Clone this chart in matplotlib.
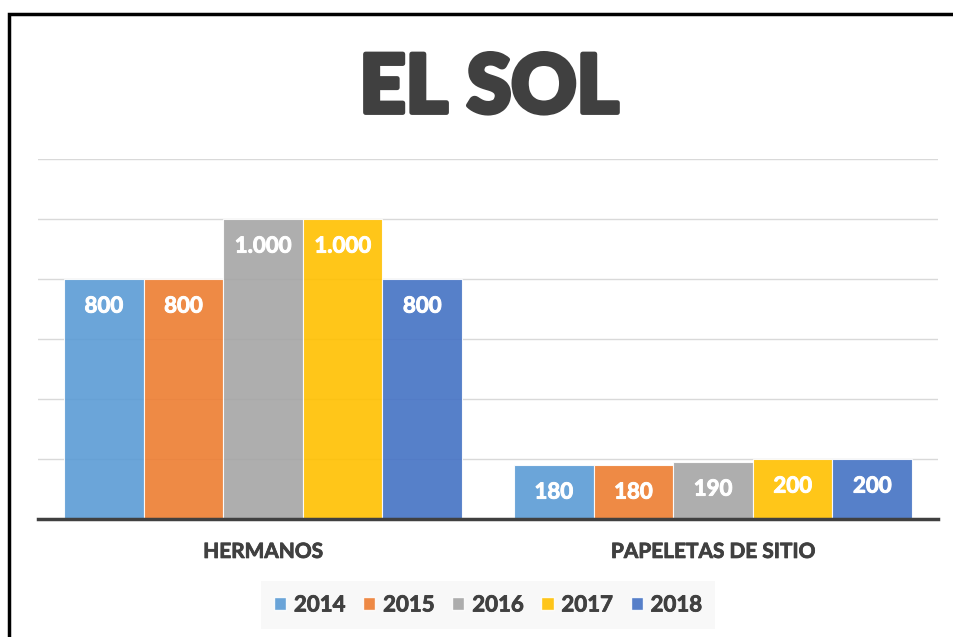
import matplotlib.pyplot as plt
import matplotlib.patheffects as pe
import numpy as np
from matplotlib.patches import Patch, Rectangle

# data
categories = ['HERMANOS', 'PAPELETAS DE SITIO']
years = ['2014', '2015', '2016', '2017', '2018']
values = {
    '2014': [800, 180],
    '2015': [800, 180],
    '2016': [1000, 190],
    '2017': [1000, 200],
    '2018': [800, 200],
}
colors = ['#5B9BD5', '#ED7D31', '#A5A5A5', '#FFC000', '#4472C4']

plt.rcParams['font.family'] = ['Lato', 'DejaVu Sans']
thick = [pe.withStroke(linewidth=0.7, foreground='white')]

fig = plt.figure(figsize=(9.54, 6.37), dpi=100)
ax = fig.add_axes([38/954, 118/637, 900/954, 360/637])

x = np.arange(len(categories))
w = 0.1769
for i, yr in enumerate(years):
    pos = x + (i - 2) * w
    bars = ax.bar(pos, values[yr], width=w, color=colors[i], alpha=0.9, edgecolor='white', linewidth=0.8, zorder=3)
    for b, v in zip(bars, values[yr]):
        txt = f'{v:,}'.replace(',', '.')
        ax.annotate(txt, (b.get_x() + b.get_width()/2, v), xytext=(0, -19.5), textcoords='offset points',
                    ha='center', va='center', color='white', fontsize=16, fontweight='bold', zorder=4,
                    path_effects=thick)

ax.set_xlim(-0.5, 1.5)
ax.set_ylim(0, 1200)
ax.set_yticks([200, 400, 600, 800, 1000, 1200])
ax.yaxis.grid(True, color='#D9D9D9', linewidth=1, zorder=0)
ax.tick_params(left=False, bottom=False, labelleft=False)
ax.set_xticks(x)
ax.set_xticklabels(categories, fontsize=15, fontweight='bold', color='#404040')
for t in ax.get_xticklabels():
    t.set_path_effects([pe.withStroke(linewidth=0.6, foreground='#404040')])
ax.tick_params(axis='x', pad=13)
for s in ['top', 'right', 'left']:
    ax.spines[s].set_visible(False)
ax.spines['bottom'].set_color('#404040')
ax.spines['bottom'].set_linewidth(2.5)
ax.spines['bottom'].set_zorder(5)

fig.text(489/954, 1 - 89/637, 'EL SOL', ha='center', va='center', fontsize=58,
         fontweight='black', color='#404040',
         path_effects=[pe.withStroke(linewidth=3.5, foreground='#404040', capstyle='round', joinstyle='round')])

handles = [Patch(facecolor=c, alpha=0.9, edgecolor='white') for c in colors]
leg = fig.legend(handles, years, loc='center', bbox_to_anchor=(488/954, 1 - 605/637), ncol=5,
                 frameon=True, facecolor='#F8F8F8', edgecolor='none', fancybox=False,
                 handlelength=0.55, handleheight=0.55, handletextpad=0.35, columnspacing=0.8,
                 prop={'size': 16, 'weight': 'bold'}, borderpad=0.6, borderaxespad=0)
leg.get_frame().set_alpha(1)
for t in leg.get_texts():
    t.set_color('#404040')
    t.set_path_effects([pe.withStroke(linewidth=0.6, foreground='#404040')])

# outer frame, right and bottom edges fall outside the picture
fig.add_artist(Rectangle((9/954, -0.5), 2.0, 1.5 - 14/637, fill=False, edgecolor='black',
                         linewidth=2.5, transform=fig.transFigure))

fig.savefig('out.png', dpi=100)
